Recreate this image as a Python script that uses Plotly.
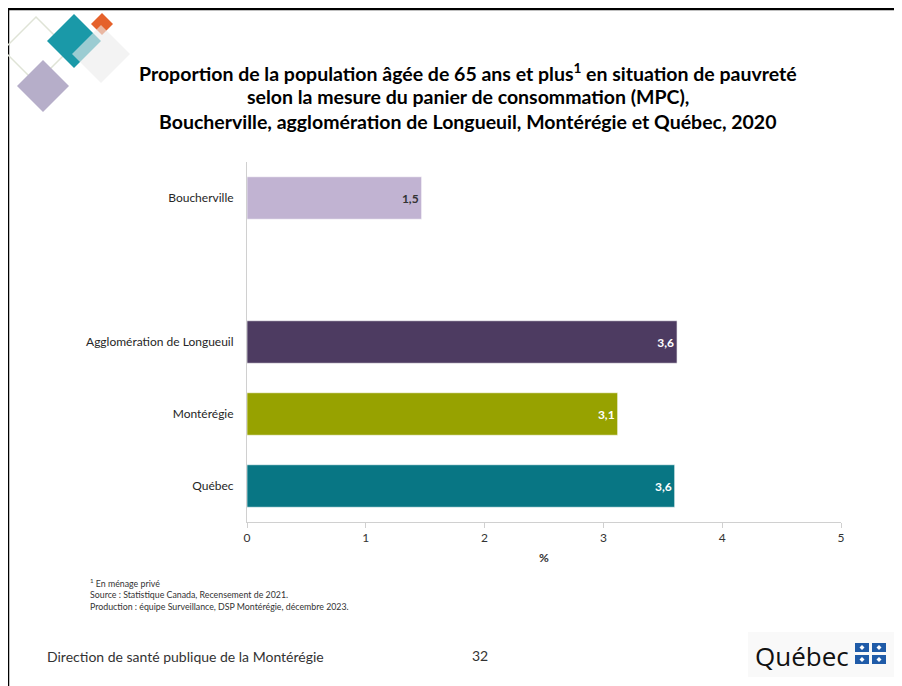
import plotly.graph_objects as go

categories = ["Québec", "Montérégie", "Agglomération de Longueuil", "Boucherville"]
values = [3.60, 3.12, 3.62, 1.47]
labels = ["3,6", "3,1", "3,6", "1,5"]
positions = [0, 1, 2, 4]
colors = ["#087684", "#97a200", "#4d3b61", "#c1b3d2"]
text_colors = ["white", "white", "white", "#333333"]
x_ticks = [0, 1, 2, 3, 4, 5]

OFF = 8  # browser page margin
W, H = 902 - OFF, 686 - OFF
L, R, T, B = 247, 841, 162, 522

def px(X):
    return (X - L) / (R - L)

def py(Y):
    return (B - Y) / (B - T)

fig = go.Figure()
fig.add_trace(go.Bar(
    y=positions, x=values, orientation="h",
    marker=dict(color=colors, line=dict(color="rgba(255,255,255,0.6)", width=1)),
    width=0.59,
    text=labels, textposition="inside", insidetextanchor="end",
    textfont=dict(family="Lato", size=12, color=text_colors, weight="bold"),
    hoverinfo="skip",
))

def diamond(cx, cy, h, fill, line=None, lw=0):
    path = "M {} {} L {} {} L {} {} L {} {} Z".format(
        px(cx), py(cy - h), px(cx + h), py(cy), px(cx), py(cy + h), px(cx - h), py(cy))
    return dict(type="path", path=path, xref="paper", yref="paper",
                fillcolor=fill, line=dict(color=line or fill, width=lw), layer="above")

shapes = [
    dict(type="line", xref="paper", yref="paper", x0=px(8), x1=px(910), y0=py(9), y1=py(9),
         line=dict(color="black", width=2.5)),
    dict(type="line", xref="paper", yref="paper", x0=px(8), x1=px(8), y0=py(9), y1=py(700),
         line=dict(color="black", width=2.5)),
    diamond(36, 50, 33, "rgba(0,0,0,0)", "#dfe3d6", 1.5),
    diamond(74, 41, 27, "#1a99a8"),
    diamond(102, 24, 11, "#e5612b"),
    diamond(101, 54, 29, "rgba(236,236,236,0.62)"),
    diamond(43, 86, 26, "#b6aec9"),
]
shapes.append(dict(type="rect", xref="paper", yref="paper", x0=px(748), x1=px(895),
                   y0=py(632), y1=py(677), fillcolor="#f9f9f9", line=dict(width=0), layer="below"))
for (x0, y0) in [(855, 643), (872, 643), (855, 655), (872, 655)]:
    shapes.append(dict(type="rect", xref="paper", yref="paper", x0=px(x0), x1=px(x0 + 14),
                       y0=py(y0), y1=py(y0 + 9), fillcolor="#1f5ba8", line=dict(width=0)))
    shapes.append(diamond(x0 + 7, y0 + 4.5, 2.5, "white"))

annotations = []
title_lines = [
    "Proportion de la population âgée de 65 ans et plus<sup>1</sup> en situation de pauvreté",
    "selon la mesure du panier de consommation (MPC),",
    "Boucherville, agglomération de Longueuil, Montérégie et Québec, 2020",
]
for i, t in enumerate(title_lines):
    annotations.append(dict(text="<b>" + t + "</b>", x=px(468), y=py(72 + 25 * i), xref="paper", yref="paper",
                            showarrow=False, xanchor="center", yanchor="middle",
                            font=dict(family="Lato", size=19.5, color="black")))
notes = [
    "<sup>1</sup> En ménage privé",
    "Source : Statistique Canada, Recensement de 2021.",
    "Production : équipe Surveillance, DSP Montérégie, décembre 2023.",
]
for i, t in enumerate(notes):
    annotations.append(dict(text=t, x=px(88), y=py(583 + 11.5 * i), xref="paper", yref="paper",
                            showarrow=False, xanchor="left", yanchor="middle",
                            font=dict(family="Lato", size=8.8, color="#333333")))
annotations.append(dict(text="Direction de santé publique de la Montérégie", x=px(45), y=py(656),
                        xref="paper", yref="paper", showarrow=False, xanchor="left", yanchor="middle",
                        font=dict(family="Lato", size=14, color="#333333")))
annotations.append(dict(text="32", x=px(480), y=py(655), xref="paper", yref="paper", showarrow=False,
                        xanchor="center", yanchor="middle", font=dict(family="Lato", size=14, color="#333333")))
annotations.append(dict(text="Québec", x=px(851), y=py(656), xref="paper", yref="paper", showarrow=False,
                        xanchor="right", yanchor="middle", font=dict(family="Open Sans", size=26, color="#111111")))
annotations.append(dict(text="<b>%</b>", x=px(544), y=py(557), xref="paper", yref="paper", showarrow=False,
                        xanchor="center", yanchor="middle", font=dict(family="Lato", size=12, color="#333333")))

fig.update_layout(
    width=W, height=H,
    margin=dict(l=L - OFF, r=902 - R, t=T - OFF, b=686 - B, pad=0),
    paper_bgcolor="white", plot_bgcolor="white",
    showlegend=False,
    shapes=shapes, annotations=annotations,
    font=dict(family="Lato", color="#333333"),
    xaxis=dict(range=[0, 5], tickvals=x_ticks, ticktext=[str(v) for v in x_ticks],
               showgrid=False, zeroline=False, showline=True, linecolor="#d0d0d0", linewidth=1,
               ticks="outside", ticklen=5, tickcolor="#d0d0d0",
               tickfont=dict(family="Lato", size=12, color="#333333")),
    yaxis=dict(range=[-0.5, 4.5], tickvals=positions, ticktext=categories,
               showgrid=False, zeroline=False, showline=True, linecolor="#d0d0d0", linewidth=1,
               ticks="", ticklabelstandoff=10,
               tickfont=dict(family="Lato", size=12, color="#262626")),
)

fig.write_html("out.html")
